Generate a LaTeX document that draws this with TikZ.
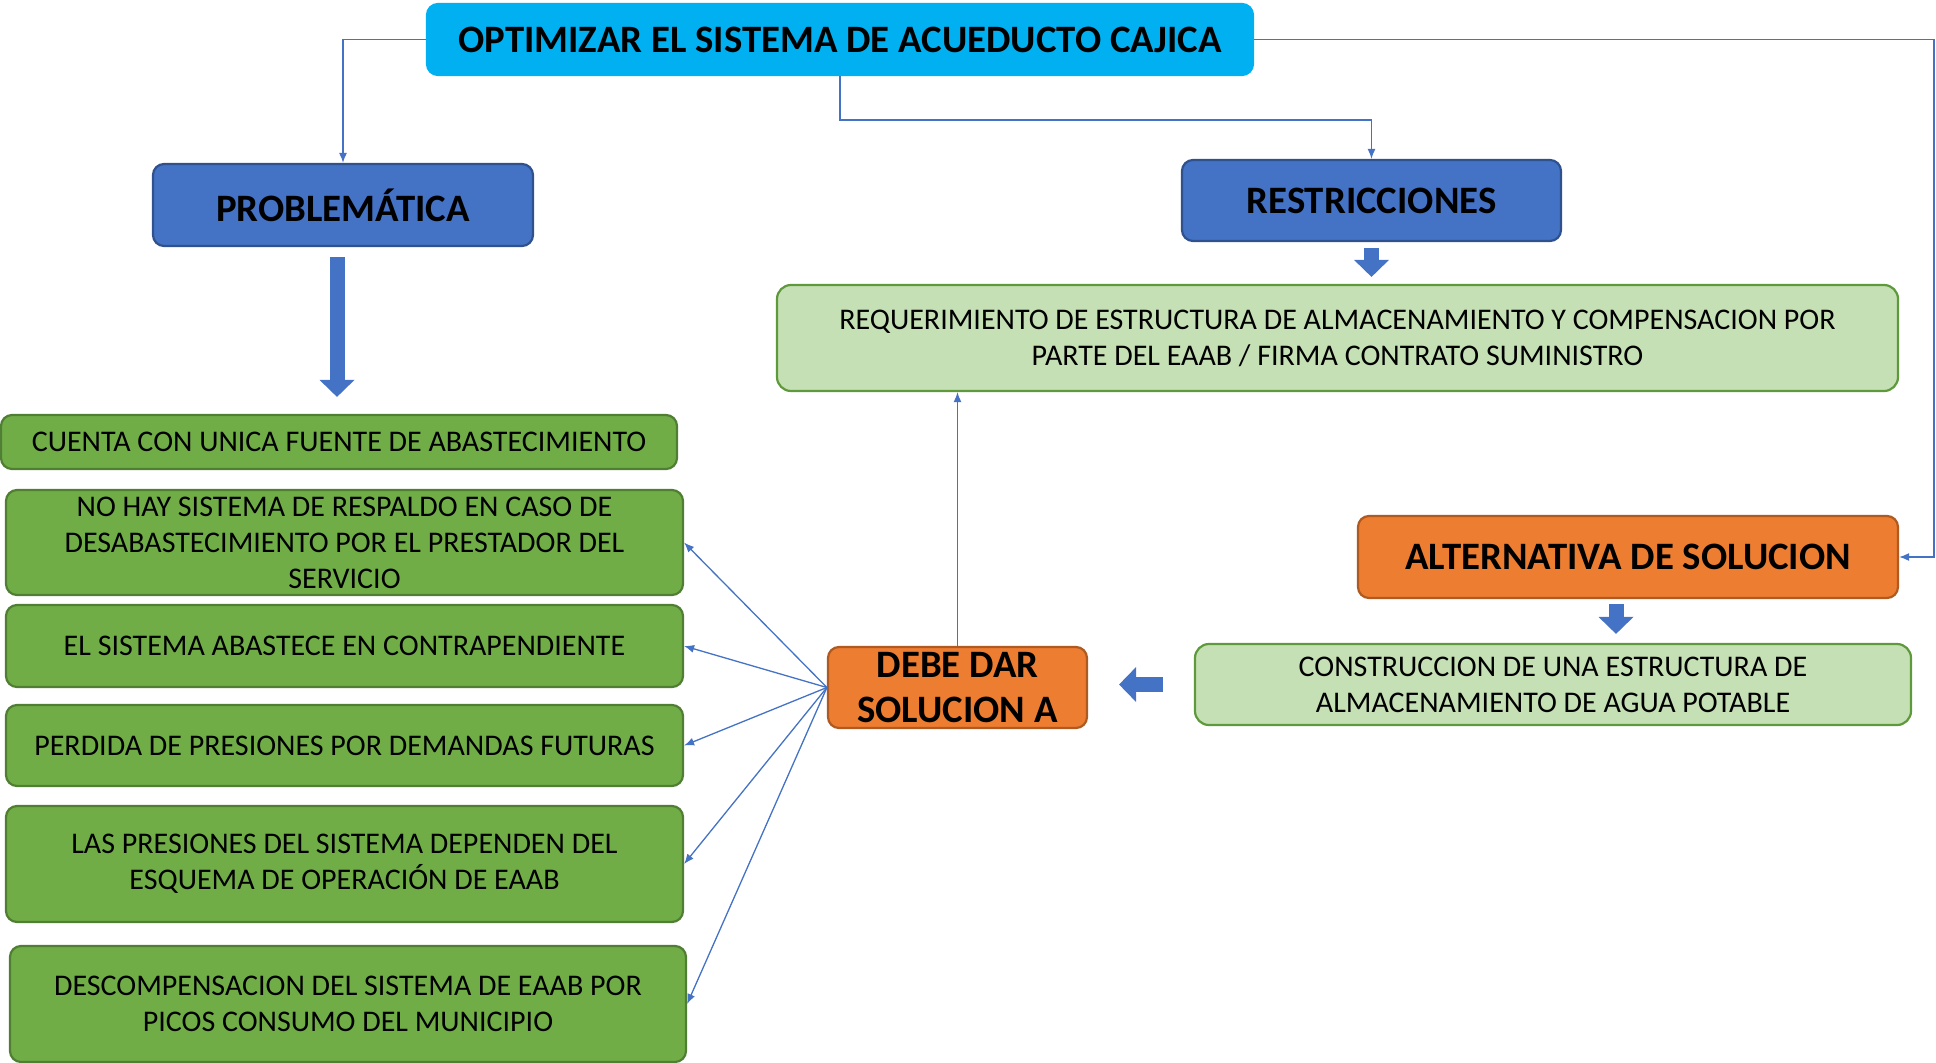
\documentclass[tikz,border=0pt]{standalone}
\usepackage{fontspec}
\setmainfont{Carlito}
\usepackage{xcolor}
\usetikzlibrary{arrows.meta,calc}
\definecolor{acCyan}{HTML}{00B0F0}
\definecolor{acBlue}{HTML}{4472C4}
\definecolor{acBlueD}{HTML}{2F528F}
\definecolor{acOrange}{HTML}{ED7D31}
\definecolor{acOrangeD}{HTML}{AE5A21}
\definecolor{acGreen}{HTML}{70AD47}
\definecolor{acGreenD}{HTML}{507E32}
\definecolor{acLight}{HTML}{C5E0B4}
\definecolor{acLightD}{HTML}{5E9A3C}
\tikzset{
  fx/.style={x=1pt, y=1pt},
  m box/.style={draw, rounded corners=11pt, align=center, line width=2.2pt, inner sep=2pt},
  m big/.style={m box, font=\fontsize{38.8}{45}\selectfont\bfseries},
  m txt/.style={m box, font=\fontsize{30}{36}\selectfont},
  m top/.style={m big, fill=acCyan, draw=acCyan},
  m blue/.style={m big, fill=acBlue, draw=acBlueD},
  m orange/.style={m big, fill=acOrange, draw=acOrangeD},
  m green/.style={m txt, fill=acGreen, draw=acGreenD},
  m lgreen/.style={m txt, fill=acLight, draw=acLightD, rounded corners=14pt},
  m arr/.style={-{Latex[length=10pt, width=8pt]}, line width=1.3pt, draw=acBlue},
  m blk/.style={-{Triangle[length=17pt, width=35pt, line width=0pt]}, line width=15pt, draw=acBlue},
}
\begin{document}
\begin{tikzpicture}[fx]
\useasboundingbox (0,0) rectangle (1936,-1063);
% ---- goal ----
\node[m top, minimum width=826pt, minimum height=71pt] (t0) at (840,-39.5) {OPTIMIZAR EL SISTEMA DE ACUEDUCTO CAJICA};
% ---- problems ----
\node[m blue, minimum width=380pt, minimum height=82pt] (p0) at (343,-205) {PROBLEMÁTICA};
\node[m green, minimum width=676pt, minimum height=54pt] (g1) at (339,-442) {CUENTA CON UNICA FUENTE DE ABASTECIMIENTO};
\node[m green, minimum width=677pt, minimum height=105pt] (g2) at (344.5,-542.5) {NO HAY SISTEMA DE RESPALDO EN CASO DE\\DESABASTECIMIENTO POR EL PRESTADOR DEL\\SERVICIO};
\node[m green, minimum width=677pt, minimum height=82pt] (g3) at (344.5,-646) {EL SISTEMA ABASTECE EN CONTRAPENDIENTE};
\node[m green, minimum width=677pt, minimum height=81pt] (g4) at (344.5,-745.5) {PERDIDA DE PRESIONES POR DEMANDAS FUTURAS};
\node[m green, minimum width=677pt, minimum height=116pt] (g5) at (344.5,-864) {LAS PRESIONES DEL SISTEMA DEPENDEN DEL\\ESQUEMA DE OPERACIÓN DE EAAB};
\node[m green, minimum width=676pt, minimum height=116pt] (g6) at (348,-1004) {DESCOMPENSACION DEL SISTEMA DE EAAB POR\\PICOS CONSUMO DEL MUNICIPIO};
% ---- restrictions ----
\node[m blue, minimum width=379pt, minimum height=81pt] (r0) at (1371.5,-200.5) {RESTRICCIONES};
\node[m lgreen, minimum width=1121pt, minimum height=106pt] (r1) at (1337.5,-338) {REQUERIMIENTO DE ESTRUCTURA DE ALMACENAMIENTO Y COMPENSACION POR\\PARTE DEL EAAB / FIRMA CONTRATO SUMINISTRO};
% ---- solution ----
\node[m orange, minimum width=540pt, minimum height=82pt] (a0) at (1628,-557) {ALTERNATIVA DE SOLUCION};
\node[m lgreen, minimum width=716pt, minimum height=81pt] (a1) at (1553,-684.5) {CONSTRUCCION DE UNA ESTRUCTURA DE\\ALMACENAMIENTO DE AGUA POTABLE};
\node[m orange, minimum width=259pt, minimum height=81pt, inner sep=0pt] (d0) at (957.5,-687.5) {DEBE DAR\\SOLUCION A};
% ---- thin connectors ----
\coordinate (rt) at (1934,-39.5);
\draw[m arr] (t0.west) -| (p0.north);
\draw[m arr] (t0.south) -- ++(0,-44) -| (r0.north);
\draw[m arr] (t0.east) -- (rt) |- (a0.east);
\draw[m arr] (d0.north) -- (d0.north |- r1.south);
\foreach \g in {g2,g3,g4,g5,g6} \draw[m arr] (d0.west) -- (\g.east);
% ---- block arrows ----
\draw[m blk, shorten <=10pt, shorten >=17pt] ($(p0.south)+(-6,0)$) -- ($(p0.south |- g1.north)+(-6,0)$);
\draw[m blk, shorten <=6pt, shorten >=7pt] (r0.south) -- (r0.south |- r1.north);
\draw[m blk, shorten <=5pt, shorten >=9pt] ($(a0.south)+(-12,0)$) -- ($(a0.south |- a1.north)+(-12,0)$);
\draw[m blk, shorten <=31pt, shorten >=31pt] (a1.west) -- (a1.west -| d0.east);
\end{tikzpicture}
\end{document}
